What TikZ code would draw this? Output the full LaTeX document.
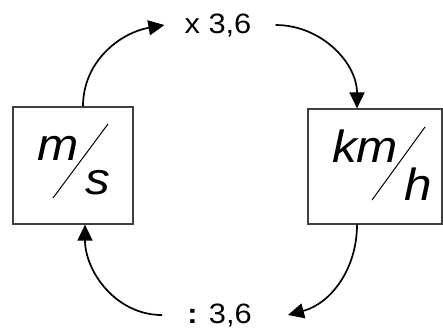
\documentclass[tikz,border=0pt]{standalone}
\usepackage{fontspec}
\setmainfont{Liberation Sans}
\newfontfamily\lblfont[FakeStretch=1.1]{Liberation Sans}
\newfontfamily\unitfont[FakeStretch=1.1]{Liberation Sans}
\usetikzlibrary{arrows.meta}

\tikzset{
  unitbox/.style={draw=black!75, line width=1.2pt, inner sep=0pt},
  unittxt/.style={font=\unitfont\itshape\fontsize{45}{45}\selectfont, inner sep=0pt, anchor=base},
  convlbl/.style={font=\lblfont\fontsize{28}{28}\selectfont, inner xsep=20pt, inner ysep=0pt, anchor=base},
  conv/.style={line width=1.7pt, -{Triangle[length=16pt,width=15pt]}},
  slashln/.style={line width=1pt}
}

\begin{document}
\begin{tikzpicture}[x=1pt, y=-1pt]
  \useasboundingbox (0,0) rectangle (443,330);
  % unit boxes
  \node[unitbox, minimum width=120pt, minimum height=117pt] (ms) at (73,165.5) {};
  \node[unitbox, minimum width=134pt, minimum height=115pt] (kmh) at (375,166.5) {};
  % fractions
  \node[unittxt] (msnum) at (58,160) {m};
  \node[unittxt] (msden) at (98,194) {s};
  \draw[slashln] (53,198) -- (108,124);
  \node[unittxt] (kmhnum) at (365,162) {km};
  \node[unittxt] (kmhden) at (418.5,200) {h};
  \draw[slashln] (372,200) -- (425,127);
  % conversion labels
  \node[convlbl] (mul) at (218,33) {x 3,6};
  \node[convlbl] (div) at (219.5,323) {\textbf{:} 3,6};
  % arrows
  \draw[conv] ([xshift=10pt]ms.north) to[out=90,in=190] (mul.west);
  \draw[conv] ([xshift=4pt]mul.east) to[out=0,in=90] ([xshift=-18pt]kmh.north);
  \draw[conv] ([xshift=-18pt]kmh.south) to[out=-90,in=15] ([xshift=16pt]div.east);
  \draw[conv] ([xshift=-5pt]div.west) to[out=180,in=-90] ([xshift=12pt]ms.south);
\end{tikzpicture}
\end{document}
